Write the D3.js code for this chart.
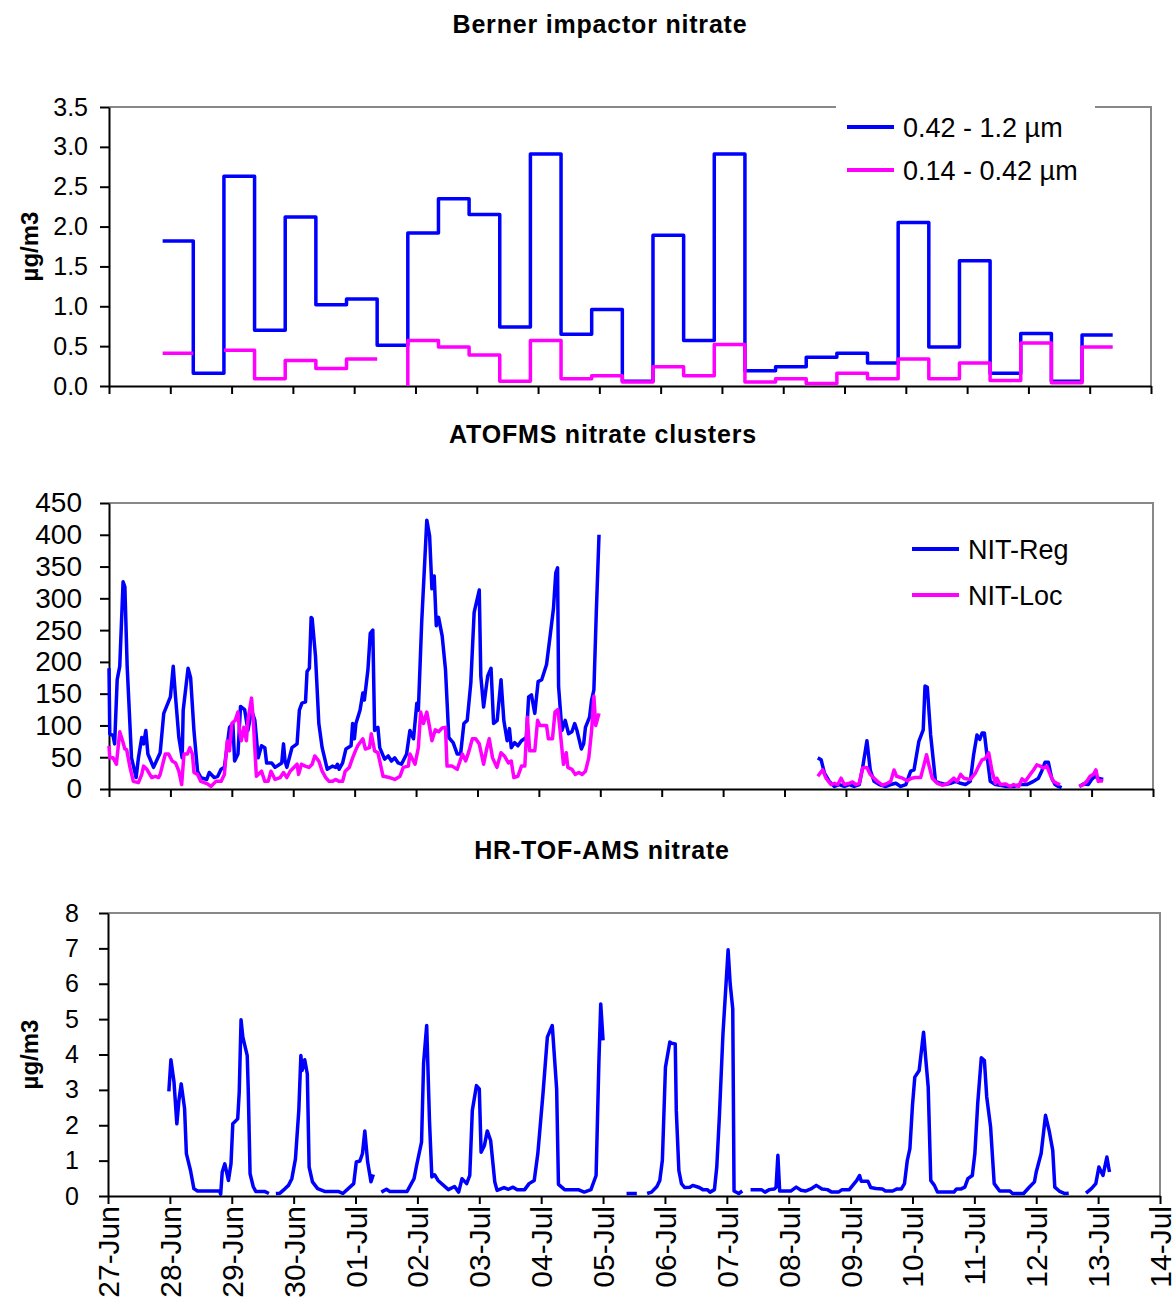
<html lang="en">
<head>
  <meta charset="utf-8"/>
  <title>Nitrate comparison</title>
  <script src="https://d3js.org/d3.v7.min.js"></script>
  <style>
  body { margin: 0; background: white; }
  * { font-family: "Liberation Sans", Arial, sans-serif; }
  .frame { fill: none; stroke: #888; stroke-width: 2px; }
  .axis path, .axis line { stroke: black; stroke-width: 2px; }
  .title { font-weight: bold; font-size: 25px; letter-spacing: 0.8px; }
  .ylab { font-weight: bold; font-size: 24px; }
  .series { fill: none; stroke-width: 3.5px; stroke-linejoin: round; }
  </style>
</head>
<body>
<svg id="chart" width="1176" height="1309"></svg>
<script>
// x axis: hours since 27-Jun 00:00, one tick per day
const dayLabels = ["27-Jun","28-Jun","29-Jun","30-Jun","01-Jul","02-Jul","03-Jul","04-Jul","05-Jul",
  "06-Jul","07-Jul","08-Jul","09-Jul","10-Jul","11-Jul","12-Jul","13-Jul","14-Jul"];

// Berner impactor, 12 h samples (edges in hours)
const bernerEdges = [21,33,45,57,69,81,93,105,117,129,141,153,165,177,189,201,213,225,237,249,261,273,285,297,309,321,333,345,357,369,381,393];
const bernerCoarse = [1.82,0.16,2.63,0.70,2.12,1.02,1.09,0.51,1.92,2.35,2.15,0.74,2.91,0.65,0.96,0.06,
  1.89,0.57,2.91,0.19,0.24,0.36,0.41,0.29,2.05,0.49,1.57,0.16,0.66,0.06,0.64];
// [start, end] where the sample is blank at one end
const bernerFine = [0.41,null,0.45,0.09,0.32,0.22,0.34,[null,0],0.57,0.49,0.39,0.06,0.57,0.09,0.13,0.05,
  0.24,0.13,0.52,0.05,0.09,0.03,0.16,0.09,0.34,0.09,0.29,0.07,0.54,0.04,0.49];

// ATOFMS clusters [hour, counts]
const nitReg = [[0,190],[0.3,87],[1.6,84],[2.2,71],[3.2,172],[4.2,193],[5.5,326],[6.2,318],[7.1,193],[8.8,49],
  [10.6,18],[11.5,49],[12.8,81],[13.5,71],[14.4,92],[15.2,55],[17.4,34],[20,57],[21.4,119],[24,145],[25.1,193],
  [26,145],[27.3,81],[28.6,49],[29,124],[30.9,190],[31.9,175],[33.2,92],[34.6,28],[35.9,18],[38.2,15],[39.2,26],
  [41.1,18],[42.5,20],[43.8,31],[45.1,34],[47.1,97],[48.4,103],[49.1,44],[50.4,55],[51.4,130],[53,125],[54.3,92],
  [55.7,124],[57,108],[58.3,49],[59.6,68],[60.9,65],[61.6,41],[63.6,41],[64.9,34],[67.5,41],[68.2,71],[68.8,44],
  [69.5,34],[71.5,65],[73.5,71],[74.4,124],[75.4,135],[76.8,137],[77.4,185],[78.3,190],[79,270],[79.4,268],
  [80.7,209],[82,103],[83.3,65],[85.3,31],[87.3,36],[88.6,34],[89.3,39],[89.9,31],[91.3,41],[92.6,63],[94.6,68],
  [95.2,103],[95.9,79],[96.5,103],[98.1,124],[99.2,151],[99.8,140],[101.2,188],[102.1,245],[103.1,250],[103.8,92],
  [105.1,97],[105.8,65],[107.7,47],[109.1,52],[110.4,44],[111.7,49],[113,41],[114.3,39],[116.3,55],[117.6,92],
  [119,79],[120.3,135],[120.9,124],[122.2,262],[124.2,423],[125.3,398],[126.2,315],[127.1,335],[127.9,257],
  [128.8,270],[130.2,241],[131.5,188],[132.8,81],[134.5,73],[136.1,55],[137.4,55],[138.7,103],[140,108],
  [141.4,167],[142.7,278],[144.7,313],[145.3,178],[146.4,129],[148,178],[149.3,190],[150.3,103],[151.7,108],
  [153.2,172],[154.3,108],[155.6,76],[156.5,95],[157.2,65],[158.5,73],[159.8,68],[161.2,76],[163.1,81],
  [164,145],[165.1,148],[166.4,119],[167.7,169],[169.1,172],[171,196],[172.4,241],[173.7,284],[174.6,340],
  [175.3,348],[175.7,161],[177,92],[178.3,108],[179.6,87],[180.9,90],[182,103],[182.9,92],[184.6,63],[185.5,71],
  [186.2,97],[187.8,113],[188.6,140],[189.5,156],[190.4,273],[191.5,400],[192,null],
  [277,49],[278.3,46],[279.6,25],[281.5,12],[283.5,4],[285.4,7],[287.4,4],[289.3,7],[291.2,4],[293.2,7],
  [294.5,33],[296.2,76],[297.5,30],[299,12],[301,7],[303.6,4],[305.5,7],[307.5,9],[309.4,4],[311.4,7],
  [313.3,28],[314.6,30],[316.5,75],[318.2,93],[318.9,162],[319.8,160],[321.1,85],[323,12],[325,9],[326.9,7],
  [328.9,9],[330.8,12],[332.8,9],[334.7,7],[336.6,12],[337.9,54],[339.2,85],[340.3,78],[341.2,88],[342.1,88],
  [343.1,54],[344.4,12],[346.4,7],[348.3,6],[350.9,4],[353.5,4],[356.1,7],[358.7,7],[361.3,12],[363.2,17],
  [364.5,28],[365.8,42],[367.1,42],[368.4,17],[369.7,7],[371,4],[372.3,2],[375,null],
  [379.2,4],[380.8,8],[382.7,7],[384,15],[385.3,20],[386.6,17],[388.5,15]];

const nitLoc = [[0,68],[0.3,49],[1.6,49],[2.9,39],[4.2,90],[5.3,76],[6.2,63],[6.9,62],[8.2,34],[9.5,12],
  [11.5,10],[12.8,23],[13.5,36],[14.8,31],[16.7,18],[18.1,20],[19.4,18],[20,23],[22,55],[23.3,55],[24.7,44],
  [26,41],[27.3,28],[28.4,7],[29.3,55],[30.6,55],[31.6,65],[32.6,55],[33.2,26],[34.6,23],[35.9,12],[38.5,8],
  [39.8,4],[41.8,12],[43.8,12],[45.1,23],[46.2,76],[47.1,60],[48,103],[49.3,108],[50.4,121],[51,92],[51.7,76],
  [52.7,97],[53.7,76],[54.3,108],[55.7,143],[56.3,113],[57.6,20],[59.6,28],[60.9,12],[62.2,12],[63.3,28],
  [64.9,15],[66.9,18],[68.2,26],[69.5,18],[70.8,28],[73.5,39],[74.1,23],[75.2,39],[76.7,36],[78.1,34],
  [79.4,39],[80.4,52],[82,44],[83.3,28],[84.7,18],[86,12],[87.3,12],[88.6,15],[89.9,12],[91.3,12],[92.3,28],
  [93.9,34],[95.2,49],[96.3,60],[97.2,68],[99.2,79],[100.2,63],[101.8,65],[102.5,87],[103.8,60],[105.1,57],
  [107.1,20],[109.7,18],[111.7,15],[113.7,20],[115,34],[117,36],[117.6,55],[119.6,39],[120.9,65],[121.8,121],
  [122.9,103],[124.2,121],[125.3,97],[126.2,76],[127.5,93],[128.8,90],[130.2,96],[131.5,97],[132.1,36],
  [134.1,36],[136.1,31],[138.1,55],[139.4,44],[140.7,60],[142,79],[143.3,79],[144.7,71],[146.4,39],[147.7,65],
  [148.6,79],[149.9,49],[151.6,34],[153.2,57],[154.5,52],[156.1,41],[157.2,44],[158.2,18],[159.8,20],
  [161.2,36],[162.5,36],[163.5,113],[164.4,60],[166.4,60],[167.5,108],[168.4,100],[171,100],[171.7,79],
  [173.3,79],[174.3,121],[175.4,125],[176.3,92],[177.6,39],[178.7,57],[179.3,34],[180.9,31],[182.2,23],
  [183.6,26],[184.9,23],[186.2,28],[187.5,49],[188.6,92],[189.5,146],[190.2,100],[191.5,119],[192,null],
  [277,20],[278.9,30],[280.2,17],[282.2,7],[283.5,9],[284.8,7],[286.1,17],[287.4,7],[289.3,9],[290.6,11],
  [291.9,7],[293.2,9],[294.5,33],[296.2,34],[297.5,23],[299,17],[300.3,12],[302.3,6],[304.2,9],[305.5,12],
  [306.8,30],[307.8,20],[310.1,17],[312,13],[313.6,17],[315.2,18],[317.2,18],[318.5,38],[319.5,54],[320.4,38],
  [321.7,17],[323.7,9],[325.6,6],[327.6,8],[330.2,17],[331.5,12],[332.8,23],[334.1,17],[336.6,15],[338.6,25],
  [339.9,36],[341.2,46],[342.5,48],[343.8,57],[345.1,28],[346.4,9],[347,17],[348.3,7],[350.3,8],[352.2,4],
  [353.5,7],[355.5,4],[356.8,16],[358.1,12],[360,23],[361.3,30],[362.6,38],[363.9,36],[365.2,33],[366.5,36],
  [367.8,23],[369.1,12],[370.4,9],[371.7,7],[375,null],
  [379.2,4],[380.8,7],[382.1,12],[383.4,20],[384.7,23],[385.7,30],[386.6,12],[387.9,13],[388.5,12]];

// HR-TOF-AMS nitrate [hour, ug/m3]
const amsNitrate = [[23.6,2.96],[24.4,3.85],[25.6,3.22],[26.7,2.04],[27.5,2.70],[28.4,3.17],[29.7,2.47],
  [30.4,1.20],[32,0.72],[33.3,0.21],[34.7,0.14],[43.3,0.14],[43.7,0.05],[44.3,0.68],[45.3,0.91],[46.7,0.44],
  [47.7,0.91],[48.4,2.04],[50.3,2.18],[50.9,2.94],[51.6,4.98],[52.3,4.49],[54,3.97],[54.4,2.98],[55.1,0.63],
  [56.3,0.27],[57.3,0.13],[60.7,0.13],[62.4,0.07],[63.5,null],
  [65.1,0.07],[66.7,0.08],[68.7,0.21],[70,0.30],[71.3,0.49],[72.7,1.05],[74,2.42],[74.8,3.97],[75.3,3.55],
  [76.3,3.85],[77.3,3.45],[78,0.82],[79.3,0.40],[81.3,0.21],[84,0.13],[89.3,0.13],[91.1,0.07],[95.3,0.35],
  [96.3,0.96],[97.7,0.99],[98.7,1.20],[99.6,1.84],[100.7,0.96],[102,0.40],[102.9,0.61],[104,null],
  [106,0.11],[108,0.19],[109.3,0.13],[116,0.13],[118.7,0.49],[119.7,0.87],[121.6,1.52],[122.4,3.76],
  [123.6,4.82],[124.7,2.09],[125.6,0.54],[126.7,0.60],[128,0.44],[132,0.18],[134.4,0.27],[136,0.11],
  [137.3,0.49],[139.1,0.35],[140.3,0.58],[141.3,2.42],[142.9,3.12],[144,3.03],[144.7,1.24],[146,1.43],
  [147.1,1.84],[148.4,1.57],[150,0.40],[150.9,0.16],[153.6,0.24],[155.3,0.19],[157.1,0.25],[158.7,0.18],
  [161.6,0.18],[163.3,0.35],[165.3,0.44],[166.7,1.20],[168.7,2.89],[170.4,4.49],[172.3,4.82],[174,3.03],
  [174.7,0.33],[177.1,0.18],[182.4,0.18],[184.7,0.11],[187.3,0.18],[189.3,0.58],[190.4,3.83],[191.1,5.43],
  [192,4.40],[195,null],
  [201.1,0.07],[205.1,0.07],[207,null],
  [209.1,0.07],[210.8,0.11],[212.9,0.27],[214,0.44],[215,1.01],[216.2,3.64],[217.9,4.35],[218.6,4.32],
  [220,4.30],[220.4,2.42],[221.4,0.72],[222.4,0.35],[223.6,0.24],[225.7,0.25],[226.8,0.30],[229.3,0.24],
  [230.7,0.18],[232.4,0.18],[233.5,0.11],[235.2,0.18],[236.1,0.82],[237.1,2.23],[238.5,4.58],[240.5,6.96],
  [241.3,6.00],[242.3,5.29],[242.8,0.14],[244.6,0.07],[246,0.14],[247.5,null],
  [249.2,0.18],[253.4,0.18],[254.8,0.11],[256.5,0.18],[258.4,0.20],[259.1,0.25],[259.8,1.15],[260.5,0.14],
  [264.8,0.14],[266.9,0.25],[268.8,0.16],[270.5,0.14],[272.6,0.20],[274.7,0.30],[276.9,0.20],[279,0.18],
  [280.7,0.11],[283.3,0.11],[284.7,0.18],[287.5,0.18],[290.4,0.44],[291.5,0.58],[292.1,0.42],[294.7,0.42],
  [295.8,0.24],[297.8,0.21],[300.3,0.20],[301.5,0.14],[304.3,0.14],[306,0.20],[307.7,0.20],[308.9,0.35],
  [310,1.01],[311,1.34],[312,2.56],[312.9,3.36],[314.6,3.55],[316.3,4.63],[317.1,3.92],[318.1,3.08],
  [319.1,0.44],[320.5,0.30],[321.7,0.11],[328.1,0.11],[329.1,0.20],[330.9,0.20],[332.3,0.25],[333.5,0.49],
  [335.2,0.58],[336.2,1.20],[337.3,2.61],[338.7,3.91],[339.9,3.83],[340.8,2.80],[342.3,1.95],[343.7,0.35],
  [345.8,0.14],[349.8,0.14],[350.8,0.07],[355.1,0.07],[357.2,0.24],[359.3,0.40],[360,0.68],[361.9,1.20],
  [363.6,2.28],[365,1.85],[366.4,1.29],[367.2,0.25],[368.9,0.14],[371.1,0.07],[372.6,0.08],[375,null],
  [379.3,0.08],[381.4,0.21],[383.1,0.35],[384.3,0.82],[385.9,0.58],[387.4,1.10],[388.4,0.68]];

const svg = d3.select("#chart");
const blue = "#0000ff", magenta = "#ff00ff";

function panel(p) {
  const x = d3.scaleLinear().domain([0, 408]).range([p.left, p.right]);
  const y = d3.scaleLinear().domain([0, p.yMax]).range([p.bottom, p.top]);

  svg.append("path").attr("class", "frame")
    .attr("d", `M${p.left},${p.top}H${p.right}V${p.bottom}`);

  svg.append("text").attr("class", "title")
    .attr("x", p.titleX).attr("y", p.titleY).attr("text-anchor", "middle").text(p.title);

  if (p.yLabel) {
    svg.append("text").attr("class", "ylab")
      .attr("transform", `translate(38,${(p.top + p.bottom) / 2}) rotate(-90)`)
      .attr("text-anchor", "middle").text(p.yLabel);
  }

  const xa = svg.append("g").attr("class", "axis")
    .attr("transform", `translate(0,${p.bottom})`)
    .call(d3.axisBottom(x).tickValues(d3.range(0, 409, 24)).tickSize(8).tickSizeOuter(0)
      .tickFormat((d, i) => p.xLabels ? dayLabels[i] : ""));
  xa.selectAll("text")
    .attr("font-size", 30).attr("fill", "black")
    .attr("transform", "rotate(-90)")
    .attr("text-anchor", "end")
    .attr("x", -10).attr("y", 0).attr("dy", "0.35em");

  const ya = svg.append("g").attr("class", "axis")
    .attr("transform", `translate(${p.left},0)`)
    .call(d3.axisLeft(y).tickValues(d3.range(0, p.yMax + p.yStep / 2, p.yStep))
      .tickSize(9).tickSizeOuter(0).tickPadding(p.pad).tickFormat(p.fmt));
  ya.selectAll("text").attr("font-size", p.fontSize).attr("fill", "black");

  return { x, y };
}

function stepPoints(edges, vals) {
  const pts = [];
  vals.forEach((v, i) => {
    const [a, b] = Array.isArray(v) ? v : [v, v];
    pts.push([edges[i], a], [edges[i + 1], b]);
  });
  return pts;
}

function drawLine(s, data, color) {
  const line = d3.line().defined(d => d[1] !== null)
    .x(d => s.x(d[0])).y(d => s.y(d[1]));
  svg.append("path").attr("class", "series").attr("stroke", color).attr("d", line(data));
}

function legend(items, lx, ly, gap) {
  items.forEach((it, i) => {
    svg.append("line").attr("x1", lx).attr("x2", lx + 47)
      .attr("y1", ly + i * gap).attr("y2", ly + i * gap)
      .attr("stroke", it.color).attr("stroke-width", 4);
    svg.append("text").attr("x", lx + 56).attr("y", ly + i * gap + 10)
      .attr("font-size", 27).text(it.name);
  });
}

// Berner impactor
const p1 = panel({ left: 109, right: 1151, top: 107, bottom: 386, yMax: 3.5, yStep: 0.5,
  fmt: d3.format(".1f"), fontSize: 25, pad: 12, title: "Berner impactor nitrate",
  titleX: 600, titleY: 33, yLabel: "µg/m3" });
drawLine(p1, stepPoints(bernerEdges, bernerCoarse), blue);
drawLine(p1, stepPoints(bernerEdges, bernerFine), magenta);
svg.append("rect").attr("x", 836).attr("y", 98).attr("width", 259).attr("height", 96).attr("fill", "white");
legend([{ name: "0.42 - 1.2 µm", color: blue }, { name: "0.14 - 0.42 µm", color: magenta }], 847, 127, 43);

// ATOFMS
const p2 = panel({ left: 109, right: 1153, top: 503, bottom: 789, yMax: 450, yStep: 50,
  fmt: d3.format("d"), fontSize: 28, pad: 18, title: "ATOFMS nitrate clusters",
  titleX: 603, titleY: 443 });
drawLine(p2, nitReg, blue);
drawLine(p2, nitLoc, magenta);
legend([{ name: "NIT-Reg", color: blue }, { name: "NIT-Loc", color: magenta }], 912, 549, 46);

// HR-TOF-AMS
const p3 = panel({ left: 108, right: 1160, top: 913, bottom: 1196, yMax: 8, yStep: 1,
  fmt: d3.format("d"), fontSize: 25, pad: 20, title: "HR-TOF-AMS nitrate",
  titleX: 602, titleY: 859, yLabel: "µg/m3", xLabels: true });
drawLine(p3, amsNitrate, blue);
</script>
</body>
</html>
